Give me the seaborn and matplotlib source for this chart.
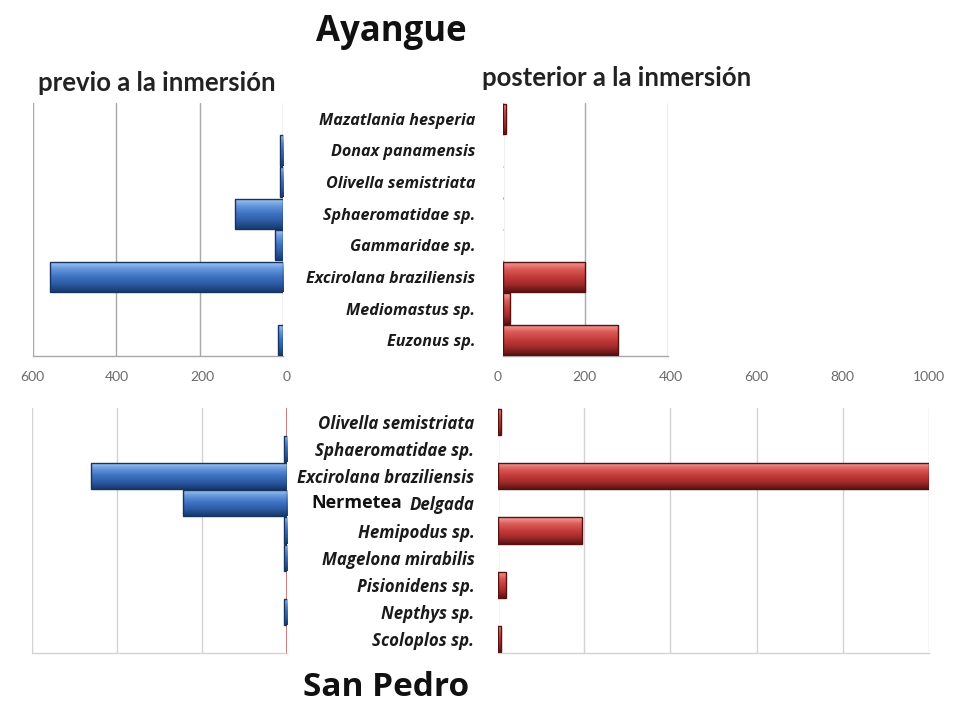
import numpy as np
import pandas as pd
import matplotlib
matplotlib.use("Agg")
import matplotlib.pyplot as plt
from matplotlib.colors import LinearSegmentedColormap
import seaborn as sns

# Abundance per taxon, before and after the immersion, at each beach
ayangue_species = ["Mazatlania hesperia", "Donax panamensis", "Olivella semistriata",
                   "Sphaeromatidae sp.", "Gammaridae sp.", "Excirolana braziliensis",
                   "Mediomastus sp.", "Euzonus sp."]
ayangue_previo = [0, 8, 8, 115, 18, 560, 0, 12]
ayangue_posterior = [8, 0, 0, 0, 0, 200, 17, 280]

sanpedro_species = ["Olivella semistriata", "Sphaeromatidae sp.", "Excirolana braziliensis",
                    "Nermetea Delgada", "Hemipodus sp.", "Magelona mirabilis",
                    "Pisionidens sp.", "Nepthys sp.", "Scoloplos sp."]
sanpedro_previo = [0, 8, 460, 245, 8, 8, 0, 8, 0]
sanpedro_posterior = [8, 0, 1000, 0, 195, 0, 18, 0, 8]

left_ticks = [600, 400, 200, 0]
top_right_ticks = [0, 200, 400]
bottom_right_ticks = [0, 200, 400, 600, 800, 1000]

W, H = 968, 705

sns.set_theme(style="white")
plt.rcParams["font.family"] = ["Lato", "DejaVu Sans"]

fig = plt.figure(figsize=(W / 100, H / 100), dpi=100)

BLUE = ["#a9cbf6", "#6496dc", "#3e72c2", "#2c5aa3", "#183a6c"]
RED = ["#f6a3a0", "#dc5b57", "#c43c3b", "#a12a2a", "#5c1313"]


def rect(x0, y0, x1, y1):
    """Axes rectangle from pixel corners (top-left origin)."""
    return [x0 / W, 1 - y1 / H, (x1 - x0) / W, (y1 - y0) / H]


def shade_bars(ax, stops, edge):
    cmap = LinearSegmentedColormap.from_list("bar", stops)
    grad = np.linspace(0, 1, 64).reshape(-1, 1)
    xl, yl = ax.get_xlim(), ax.get_ylim()
    for p in ax.patches:
        w = p.get_width()
        if w == 0:
            continue
        x0, y0, h = p.get_x(), p.get_y(), p.get_height()
        im = ax.imshow(grad, cmap=cmap, aspect="auto", origin="upper",
                       extent=(x0, x0 + w, y0 + h, y0), zorder=2,
                       interpolation="bilinear")
        im.set_clip_path(p)
        p.set_facecolor("none")
        p.set_edgecolor(edge)
        p.set_linewidth(1.0)
        p.set_zorder(3)
    ax.set_xlim(xl)
    ax.set_ylim(yl)


def panel(box, species, values, stops, edge, xlim, ticks, grid_color):
    ax = fig.add_axes(box)
    df = pd.DataFrame({"especie": species, "n": values})
    sns.barplot(data=df, x="n", y="especie", orient="h", color=stops[2],
                width=0.96, ax=ax)
    ax.set_xlim(*xlim)
    ax.set_ylim(len(species) - 0.5, -0.5)
    ax.set_xticks(ticks)
    ax.grid(axis="x", color=grid_color, lw=1)
    ax.set_axisbelow(True)
    for s in ("top", "left", "right"):
        ax.spines[s].set_visible(False)
    ax.spines["bottom"].set_color(grid_color)
    ax.spines["bottom"].set_linewidth(1)
    ax.set_xlabel("")
    ax.set_ylabel("")
    ax.tick_params(axis="both", length=0)
    shade_bars(ax, stops, edge)
    return ax


tick_font = dict(fontsize=10, color="#6a6a6a")
cat_font_top = dict(fontsize=11.6, fontweight="bold", fontstyle="italic", color="#1a1a1a",
                    family=["Open Sans", "DejaVu Sans"])
cat_font_bottom = dict(cat_font_top, fontsize=12.2)

# Ayangue
ax_tl = panel(rect(33, 103, 283, 356), ayangue_species, ayangue_previo, BLUE,
              "#163462", (600, 0), left_ticks, "#a8a8a8")
ax_tl.set_xticklabels([])
ax_tl.set_yticklabels([])

ax_tr = panel(rect(503, 103, 668, 356), ayangue_species, ayangue_posterior, RED,
              "#561010", (0, 400), top_right_ticks, "#a8a8a8")
ax_tr.set_xticklabels([])
ax_tr.set_yticks(range(len(ayangue_species)))
ax_tr.set_yticklabels(ayangue_species, **cat_font_top)
ax_tr.tick_params(axis="y", pad=20)

# San Pedro
ax_bl = panel(rect(32, 408, 287, 653), sanpedro_species, sanpedro_previo, BLUE,
              "#163462", (600, 0), left_ticks, "#d2d2d2")
ax_bl.set_yticklabels([])
ax_bl.axvline(0, color="#c25a58", lw=1.1, zorder=1)
ax_bl.xaxis.tick_top()
ax_bl.set_xticklabels([str(t) for t in left_ticks], **tick_font)
ax_bl.tick_params(axis="x", pad=18)

ax_br = panel(rect(498, 408, 929, 653), sanpedro_species, sanpedro_posterior, RED,
              "#561010", (0, 1000), bottom_right_ticks, "#d2d2d2")
ax_br.xaxis.tick_top()
ax_br.set_xticklabels([str(t) for t in bottom_right_ticks], **tick_font)
ax_br.tick_params(axis="x", pad=18)
ax_br.set_yticks(range(len(sanpedro_species)))
labels = [s.split(" ", 1)[1] if s.startswith("Nermetea") else s for s in sanpedro_species]
ax_br.set_yticklabels(labels, **cat_font_bottom)
ax_br.tick_params(axis="y", pad=17)

# "Nermetea" is set upright in front of its italic epithet
ner_y = ax_br.transData.transform((0, sanpedro_species.index("Nermetea Delgada")))[1]
fig.text(402 / W, ner_y / H, "Nermetea", ha="right", va="center",
         fontsize=13, fontweight="bold", color="#111111",
         family=["Open Sans", "DejaVu Sans"])

# Titles
fig.text(391 / W, 1 - 32 / H, "Ayangue", ha="center", va="center",
         fontsize=25, fontweight="bold", color="#111111",
         family=["Open Sans", "DejaVu Sans"])
fig.text(386 / W, 1 - 688 / H, "San Pedro", ha="center", va="center",
         fontsize=24, fontweight="bold", color="#111111",
         family=["Open Sans", "DejaVu Sans"])
fig.text(157 / W, 1 - 83 / H, "previo a la inmersión", ha="center", va="center",
         fontsize=18.5, fontweight="bold", color="#222222")
fig.text(617 / W, 1 - 78 / H, "posterior a la inmersión", ha="center", va="center",
         fontsize=18.5, fontweight="bold", color="#222222")

fig.savefig("out.png", dpi=100, facecolor="white")
